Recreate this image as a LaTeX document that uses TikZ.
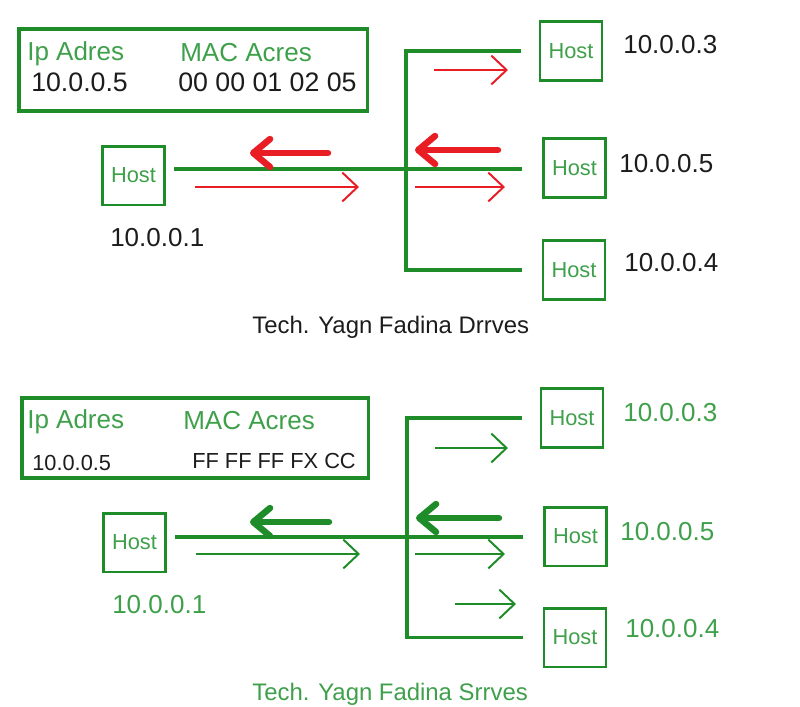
\documentclass[tikz,border=0pt]{standalone}
\usepackage{fontspec}
\setmainfont{Liberation Sans}
\usepackage{xcolor}
\usetikzlibrary{arrows.meta,positioning}

\definecolor{boxgreen}{RGB}{30,140,40}
\definecolor{txtgreen}{RGB}{62,160,74}
\definecolor{arpred}{RGB}{232,30,36}
\definecolor{txtblack}{RGB}{28,28,28}

\begin{document}
\begin{tikzpicture}[
    x=0.025cm, y=-0.025cm,
    % boxes
    host/.style={rectangle, draw=boxgreen, line width=2pt, minimum width=1.55cm,
        minimum height=1.47cm, inner sep=0pt, text=txtgreen, font=\fontsize{15.5}{18}\selectfont},
    infobox/.style={rectangle, draw=boxgreen, line width=2.2pt, inner sep=0pt},
    % texts
    head/.style={anchor=base west, inner sep=0pt, text=txtgreen, font=\fontsize{18.5}{22}\selectfont},
    value/.style={anchor=base west, inner sep=0pt, text=txtblack, font=\fontsize{19}{22}\selectfont},
    ip/.style={anchor=base west, inner sep=0pt, font=\fontsize{18.5}{22}\selectfont},
    caption/.style={anchor=base west, inner sep=0pt, font=\fontsize{17}{20}\selectfont},
    % lines
    bus/.style={draw=boxgreen, line width=2.2pt},
    fwd/.style={-{Straight Barb[length=0.38cm, width=0.72cm]}, line width=1.4pt},
    back/.style={-{Straight Barb[round, length=0.42cm, width=0.7cm]}, line width=4.6pt, line cap=round}
]
    \useasboundingbox (0,0) rectangle (800,706);

    % ---- top: request ----
    \node[infobox, minimum width=8.7cm, minimum height=2.05cm] (tabA) at (193,70) {};
    \node[head] (ipA) at (27,60) {Ip Adres};
    \node[head] (macA) at (180,61) {MAC Acres};
    \node[value] (ipvA) at (31,91) {10.0.0.5};
    \node[value] (macvA) at (178,91) {00 00 01 02 05};

    \node[host] (hA1) at (133.5,175.5) {Host};
    \node[host] (hA3) at (571,51) {Host};
    \node[host] (hA5) at (574.5,168) {Host};
    \node[host] (hA4) at (574,270) {Host};
    \coordinate (jA) at (406,169);

    \node[ip, text=txtblack] (lA1) at (110,246) {10.0.0.1};
    \node[ip, text=txtblack] (lA3) at (623,53) {10.0.0.3};
    \node[ip, text=txtblack] (lA5) at (619,172) {10.0.0.5};
    \node[ip, text=txtblack] (lA4) at (624,271) {10.0.0.4};

    \draw[bus, shorten <=0.2cm, shorten >=0.5cm] (hA1.east |- jA) -- (hA5.west |- jA);
    \draw[bus, shorten <=0.43cm, shorten >=0.5cm] (hA3.west) -- (hA3.west -| jA)
        -- (hA4.west -| jA) -- (hA4.west);

    \coordinate (qA1) at (195,187);  \coordinate (qA1e) at (359,187);
    \coordinate (qA2) at (415,187);  \coordinate (qA2e) at (505,187);
    \coordinate (qA3) at (434,70);   \coordinate (qA3e) at (508,70);
    \coordinate (pA1) at (328,153);  \coordinate (pA1e) at (250,153);
    \coordinate (pA2) at (498,150);  \coordinate (pA2e) at (415,150);
    \draw[fwd, arpred] (qA1) -- (qA1e);
    \draw[fwd, arpred] (qA2) -- (qA2e);
    \draw[fwd, arpred] (qA3) -- (qA3e);
    \draw[back, arpred] (pA1) -- (pA1e);
    \draw[back, arpred] (pA2) -- (pA2e);

    \node[caption, text=txtblack] (capA) at (252,333) {Tech. Yagn Fadina Drrves};

    % ---- bottom: reply ----
    \node[infobox, minimum width=8.65cm, minimum height=2cm] (tabB) at (195,438) {};
    \node[head] (ipB) at (27,428) {Ip Adres};
    \node[head] (macB) at (183,429) {MAC Acres};
    \node[value, font=\fontsize{15.5}{18}\selectfont] (ipvB) at (32,470) {10.0.0.5};
    \node[value, font=\fontsize{15.5}{18}\selectfont] (macvB) at (192,468) {FF FF FF FX CC};

    \node[host] (hB1) at (134.5,542.5) {Host};
    \node[host] (hB3) at (572,418) {Host};
    \node[host] (hB5) at (575.5,536.5) {Host};
    \node[host] (hB4) at (575,637.5) {Host};
    \coordinate (jB) at (407,537);

    \node[ip, text=txtgreen] (lB1) at (112,613) {10.0.0.1};
    \node[ip, text=txtgreen] (lB3) at (623,421) {10.0.0.3};
    \node[ip, text=txtgreen] (lB5) at (620,540) {10.0.0.5};
    \node[ip, text=txtgreen] (lB4) at (625,637) {10.0.0.4};

    \draw[bus, shorten <=0.2cm, shorten >=0.5cm] (hB1.east |- jB) -- (hB5.west |- jB);
    \draw[bus, shorten <=0.43cm, shorten >=0.5cm] (hB3.west) -- (hB3.west -| jB)
        -- (hB4.west -| jB) -- (hB4.west);

    \coordinate (qB1) at (196,554);  \coordinate (qB1e) at (360,554);
    \coordinate (qB2) at (415,554);  \coordinate (qB2e) at (505,554);
    \coordinate (qB3) at (435,448);  \coordinate (qB3e) at (508,448);
    \coordinate (qB4) at (455,604);  \coordinate (qB4e) at (516,604);
    \coordinate (pB1) at (329,522);  \coordinate (pB1e) at (250,522);
    \coordinate (pB2) at (499,518);  \coordinate (pB2e) at (416,518);
    \draw[fwd, boxgreen] (qB1) -- (qB1e);
    \draw[fwd, boxgreen] (qB2) -- (qB2e);
    \draw[fwd, boxgreen] (qB3) -- (qB3e);
    \draw[fwd, boxgreen] (qB4) -- (qB4e);
    \draw[back, boxgreen] (pB1) -- (pB1e);
    \draw[back, boxgreen] (pB2) -- (pB2e);

    \node[caption, text=txtgreen] (capB) at (252,700) {Tech. Yagn Fadina Srrves};
\end{tikzpicture}
\end{document}
